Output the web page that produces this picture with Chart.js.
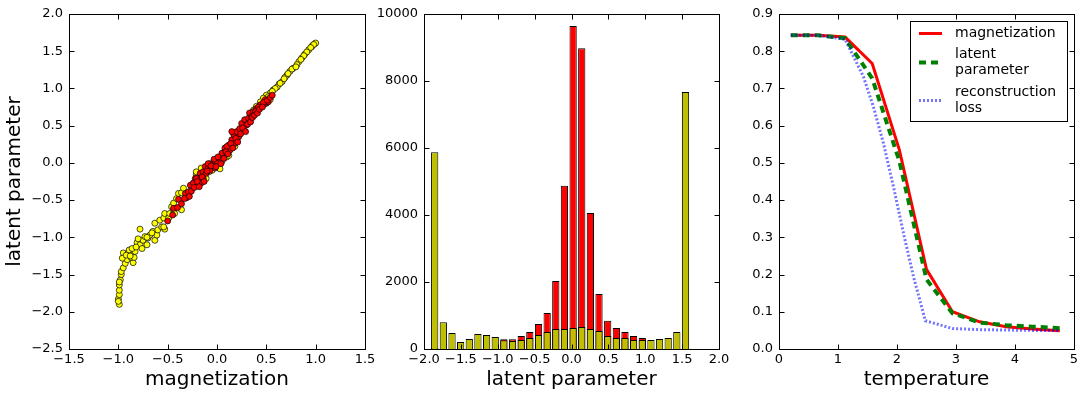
<!DOCTYPE html>
<html><head><meta charset="utf-8">
<script src="https://cdn.jsdelivr.net/npm/chart.js@4/dist/chart.umd.min.js"></script>
<style>
html,body{margin:0;padding:0;background:#fff;}
#wrap{position:relative;width:1085px;height:398px;overflow:hidden;background:#fff;}
canvas{position:absolute;left:0;top:0;}
</style></head><body>
<div id="wrap">
<canvas id="c1" width="1085" height="398"></canvas>
<canvas id="c2" width="1085" height="398"></canvas>
<canvas id="c3" width="1085" height="398"></canvas>
</div>
<script>
// ---------- Panel 1: scatter (magnetization vs latent parameter) ----------
const yellowMag = [-0.99,-1.00,-0.99,-0.99,-0.99,-0.98,-0.97,-0.97,-0.95,-0.93,-0.91,-0.95,-0.90,-0.89,-0.85,-0.87,-0.84,-0.83,-0.81,-0.78,-0.78,-0.76,-0.75,-0.73,-0.71,-0.70,-0.68,-0.65,-0.63,-0.61,-0.60,-0.56,-0.53,
  -0.96,-0.92,-0.88,-0.86,-0.82,-0.80,-1.00,-0.99,
  -0.71,-0.66,-0.63,-0.58,-0.54,-0.53,-0.54,-0.49,-0.48,-0.46,-0.44,-0.44,-0.43,-0.36,-0.41,-0.39,-0.36,-0.34,-0.26,-0.21,-0.11,-0.05,-0.14,
  -0.02,0.10,0.28,0.35,0.39,0.44,0.47,0.50,0.54,-0.16,-0.21,
  0.99,0.96,0.93,0.89,0.86,0.83,0.81,0.77,0.74,0.71,0.69,0.66,0.63,0.61,0.57,0.54,0.50,0.47,0.44,0.40,0.37,0.76,0.72,1.00,0.97,
  0.98,0.95,0.91,0.88,0.85,0.80,0.68,0.64,0.59,0.56,0.52,
  0.05,0.18,0.12,0.25,0.03,-0.08,-0.28,-0.30];
const yellowLat = [-1.90,-1.83,-1.77,-1.71,-1.64,-1.57,-1.50,-1.46,-1.41,-1.35,-1.30,-1.21,-1.21,-1.17,-1.34,-1.27,-1.27,-1.19,-1.07,-1.10,-0.89,-1.15,-1.04,-0.99,-1.10,-1.01,-0.97,-0.92,-1.04,-0.97,-0.90,-0.86,-0.89,
  -1.28,-1.24,-1.25,-1.15,-1.13,-1.02,-1.86,-1.60,
  -1.00,-0.94,-0.81,-0.77,-0.74,-0.68,-0.86,-0.74,-0.68,-0.59,-0.63,-0.54,-0.68,-0.63,-0.48,-0.41,-0.40,-0.34,-0.32,-0.16,-0.21,-0.10,-0.16,
  -0.01,0.08,0.51,0.64,0.67,0.76,0.78,0.80,0.85,-0.07,-0.12,
  1.60,1.56,1.52,1.46,1.41,1.36,1.32,1.27,1.23,1.18,1.15,1.09,1.06,1.02,0.98,0.94,0.91,0.87,0.82,0.76,0.71,1.26,1.20,1.61,1.58,
  1.59,1.55,1.49,1.44,1.39,1.29,1.13,1.07,1.00,0.96,0.89,
  0.02,0.22,0.10,0.45,-0.08,-0.12,-0.40,-0.45];
const redMag = [-0.50,-0.44,-0.39,-0.31,-0.32,-0.29,-0.27,-0.24,-0.22,-0.19,-0.17,-0.14,-0.12,-0.09,-0.07,-0.04,-0.02,-0.19,-0.14,-0.11,-0.07,
  0.00,0.03,0.06,0.08,0.12,0.15,0.17,0.20,0.23,0.25,0.28,0.32,0.33,0.37,0.40,0.44,0.49,0.52,
  -0.09,-0.02,0.05,0.13,0.18,0.10,0.22,0.27,0.30,0.15,-0.16,-0.21,0.49,0.47,0.42,0.39,0.35,
  -0.45,-0.40,-0.36,-0.33,-0.28,-0.26,-0.23,-0.20,-0.18,-0.15,-0.13,-0.10,-0.06,-0.03,-0.01,0.01,0.04,0.07,0.09,0.11,0.14,0.16,0.19,0.21,0.24,0.26,0.29,0.31,0.34,0.36,0.38,0.41,0.43,0.46,0.51,0.54,0.56];
const redLat = [-0.78,-0.61,-0.49,-0.47,-0.41,-0.39,-0.30,-0.27,-0.21,-0.21,-0.14,-0.12,-0.05,-0.07,-0.01,-0.03,0.02,-0.30,-0.21,-0.14,-0.10,
  0.02,0.06,0.13,0.20,0.24,0.31,0.38,0.42,0.46,0.53,0.58,0.60,0.67,0.69,0.73,0.78,0.80,0.82,
  -0.01,-0.07,0.13,0.17,0.26,0.22,0.35,0.44,0.51,0.42,-0.27,-0.21,0.85,0.81,0.75,0.69,0.62,
  -0.70,-0.60,-0.55,-0.48,-0.45,-0.38,-0.33,-0.25,-0.32,-0.19,-0.25,-0.11,-0.04,0.05,-0.05,0.08,-0.01,0.06,0.15,0.12,0.26,0.20,0.33,0.28,0.39,0.47,0.42,0.52,0.55,0.61,0.64,0.67,0.72,0.75,0.84,0.88,0.91];
const scatterXTicks = [-1.5,-1.0,-0.5,0.0,0.5,1.0,1.5];
const scatterXLabels = ['\u22121.5','\u22121.0','\u22120.5','0.0','0.5','1.0','1.5'];
const scatterYTicks = [-2.5,-2.0,-1.5,-1.0,-0.5,0.0,0.5,1.0,1.5,2.0];
const scatterYLabels = ['\u22122.5','\u22122.0','\u22121.5','\u22121.0','\u22120.5','0.0','0.5','1.0','1.5','2.0'];

// ---------- Panel 2: histogram of latent parameter ----------
const binCenters = [-1.855,-1.738,-1.620,-1.503,-1.386,-1.269,-1.151,-1.034,-0.917,-0.799,-0.682,-0.565,-0.447,-0.330,-0.213,-0.096,0.022,0.139,0.256,0.373,0.491,0.608,0.725,0.842,0.960,1.077,1.194,1.311,1.428,1.546];
const redCounts = [30,0,0,0,0,0,0,0,290,290,390,510,750,1075,2030,4870,9640,8980,4060,1640,840,630,510,390,330,0,0,0,0,0];
const yellowCounts = [5870,800,480,210,300,450,420,360,260,240,270,330,420,510,600,600,630,660,600,540,390,330,330,270,270,270,300,330,510,7670];
const histXTicks = [-2.0,-1.5,-1.0,-0.5,0.0,0.5,1.0,1.5,2.0];
const histXLabels = ['\u22122.0','\u22121.5','\u22121.0','\u22120.5','0.0','0.5','1.0','1.5','2.0'];
const histYTicks = [0,2000,4000,6000,8000,10000];
const histYLabels = ['0','2000','4000','6000','8000','10000'];

// ---------- Panel 3: order parameters vs temperature ----------
const temperatures = [0.20,0.66,1.12,1.58,2.04,2.50,2.94,3.40,3.85,4.30,4.76];
const magnetization = [0.843,0.843,0.838,0.767,0.535,0.214,0.100,0.073,0.060,0.054,0.049];
const latentParam = [0.843,0.843,0.835,0.727,0.505,0.187,0.096,0.071,0.064,0.060,0.056];
const lossTemperatures = [0.20,0.66,1.12,1.43,1.60,1.77,1.94,2.11,2.28,2.48,2.94,3.40,3.85,4.30,4.76];
const reconLoss = [0.843,0.843,0.832,0.732,0.651,0.553,0.436,0.311,0.194,0.076,0.055,0.052,0.051,0.050,0.050];
const lineXTicks = [0,1,2,3,4,5];
const lineXLabels = ['0','1','2','3','4','5'];
const lineYTicks = [0.0,0.1,0.2,0.3,0.4,0.5,0.6,0.7,0.8,0.9];
const lineYLabels = ['0.0','0.1','0.2','0.3','0.4','0.5','0.6','0.7','0.8','0.9'];
const legendLines = [['magnetization'],['latent','parameter'],['reconstruction','loss']];

// ---------- shared styling ----------
const FONT = "'DejaVu Sans', 'Bitstream Vera Sans', sans-serif";
const TICK_FONT = {family: FONT, size: 13};
const TITLE_FONT = {family: FONT, size: 20};

const frameTicks = {
  id: 'frameTicks',
  afterDatasetsDraw(chart) {
    const {ctx, chartArea: a} = chart;
    const xs = chart.scales.x, ys = chart.scales.y;
    const L = Math.round(a.left) + 0.5, R = Math.round(a.right) + 0.5;
    const T = Math.round(a.top) + 0.5, B = Math.round(a.bottom) + 0.5;
    ctx.save();
    ctx.strokeStyle = '#000';
    ctx.lineWidth = 1;
    ctx.beginPath();
    xs.ticks.forEach(t => {
      const p = Math.round(xs.getPixelForValue(t.value)) + 0.5;
      ctx.moveTo(p, B); ctx.lineTo(p, B - 5);
      ctx.moveTo(p, T); ctx.lineTo(p, T + 5);
    });
    ys.ticks.forEach(t => {
      const p = Math.round(ys.getPixelForValue(t.value)) + 0.5;
      ctx.moveTo(L, p); ctx.lineTo(L + 5, p);
      ctx.moveTo(R, p); ctx.lineTo(R - 5, p);
    });
    ctx.stroke();
    ctx.strokeRect(L, T, R - L, B - T);
    ctx.restore();
  }
};

function axis(min, max, ticks, labels, opts, pad) {
  return Object.assign({
    type: 'linear', min: min, max: max, offset: false,
    grid: {display: false, drawTicks: false},
    border: {display: false},
    afterBuildTicks: s => { s.ticks = ticks.map(v => ({value: v})); },
    ticks: {
      autoSkip: false, maxRotation: 0, color: '#000', font: TICK_FONT, padding: pad,
      callback: (v) => { const i = ticks.findIndex(t => Math.abs(t - v) < 1e-9); return i >= 0 ? labels[i] : ''; }
    }
  }, opts || {});
}
function xTitle(text) { return {display: !!text, text: text, color: '#000', font: TITLE_FONT, padding: {top: 0, bottom: 6}}; }

const baseOpts = (padL, padR) => ({
  responsive: false, animation: false, devicePixelRatio: 1, events: [],
  layout: {padding: {left: padL, right: padR, top: 14, bottom: 0}},
  plugins: {legend: {display: false}, tooltip: {enabled: false}, title: {display: false}}
});

// ---------- Chart 1 ----------
new Chart(document.getElementById('c1'), {
  type: 'scatter',
  data: {datasets: [
    {label: 'red', data: redMag.map((m, i) => ({x: m, y: redLat[i]})), order: 1,
     backgroundColor: '#ff0000', borderColor: '#000', borderWidth: 0.7, pointRadius: 3},
    {label: 'yellow', data: yellowMag.map((m, i) => ({x: m, y: yellowLat[i]})), order: 2,
     backgroundColor: '#ffff00', borderColor: '#000', borderWidth: 0.7, pointRadius: 3}
  ]},
  options: Object.assign(baseOpts(0, 720), {
    scales: {
      x: axis(-1.5, 1.5, scatterXTicks, scatterXLabels, {title: xTitle('magnetization'), afterFit: s => { s.height = 49; }}, 3),
      y: axis(-2.5, 2.0, scatterYTicks, scatterYLabels, {
        title: {display: true, text: 'latent parameter', color: '#000', font: TITLE_FONT, padding: {top: 3, bottom: 0}},
        afterFit: s => { s.width = 69; }}, 6)
    }
  }),
  plugins: [frameTicks]
});

// ---------- Chart 2 ----------
new Chart(document.getElementById('c2'), {
  type: 'bar',
  data: {datasets: [
    {label: 'yellow', data: binCenters.map((c, i) => ({x: c, y: yellowCounts[i]})), order: 1,
     backgroundColor: '#bfbf00', borderColor: '#000', borderWidth: 1, grouped: false,
     barPercentage: 1.0, categoryPercentage: 0.84},
    {label: 'red', data: binCenters.map((c, i) => ({x: c, y: redCounts[i]})), order: 2,
     backgroundColor: '#ff0000', borderColor: '#000', borderWidth: 1, grouped: false,
     barPercentage: 1.0, categoryPercentage: 0.84}
  ]},
  options: Object.assign(baseOpts(375, 366), {
    scales: {
      x: axis(-2.0, 2.0, histXTicks, histXLabels, {title: xTitle('latent parameter'), afterFit: s => { s.height = 49; }}, 3),
      y: axis(0, 10000, histYTicks, histYLabels, {afterFit: s => { s.width = 49; }}, 6)
    }
  }),
  plugins: [frameTicks]
});

// ---------- Chart 3 ----------
const legendBox = {
  id: 'legendBox',
  afterDraw(chart) {
    const {ctx, chartArea: a} = chart;
    const ds = chart.data.datasets;
    const bx = Math.round(a.right) - 163.5, by = Math.round(a.top) + 7.5, bw = 157, bh = 100;
    ctx.save();
    ctx.fillStyle = '#fff';
    ctx.fillRect(bx, by, bw, bh);
    ctx.strokeStyle = '#000'; ctx.lineWidth = 1;
    ctx.strokeRect(bx, by, bw, bh);
    const lineGap = 16;
    const firstY = [by + 12, by + 33, by + 71];
    ctx.font = "14px " + FONT;
    ctx.textBaseline = 'middle';
    ctx.textAlign = 'left';
    legendLines.forEach((lines, k) => {
      const d = ds[k];
      const midY = firstY[k] + (lines.length - 1) * lineGap / 2;
      ctx.strokeStyle = d.borderColor; ctx.lineWidth = d.borderWidth;
      ctx.setLineDash(d.borderDash || []);
      ctx.beginPath(); ctx.moveTo(bx + 8.5, midY); ctx.lineTo(bx + 31.5, midY); ctx.stroke();
      ctx.setLineDash([]);
      ctx.fillStyle = '#000';
      lines.forEach((t, j) => ctx.fillText(t, bx + 44.5, firstY[k] + j * lineGap));
    });
    ctx.restore();
  }
};

new Chart(document.getElementById('c3'), {
  type: 'line',
  data: {datasets: [
    {label: 'magnetization', data: temperatures.map((t, i) => ({x: t, y: magnetization[i]})), order: 3,
     borderColor: '#ff0000', borderWidth: 3, pointRadius: 0, fill: false, tension: 0},
    {label: 'latent parameter', data: temperatures.map((t, i) => ({x: t, y: latentParam[i]})), order: 2,
     borderColor: '#008000', borderWidth: 4, borderDash: [7, 5], pointRadius: 0, fill: false, tension: 0},
    {label: 'reconstruction loss', data: lossTemperatures.map((t, i) => ({x: t, y: reconLoss[i]})), order: 1,
     borderColor: 'rgba(0,0,255,0.55)', borderWidth: 3, borderDash: [2, 2], pointRadius: 0, fill: false, tension: 0}
  ]},
  options: Object.assign(baseOpts(730, 11), {
    scales: {
      x: axis(0, 5, lineXTicks, lineXLabels, {title: xTitle('temperature'), afterFit: s => { s.height = 49; }}, 3),
      y: axis(0, 0.9, lineYTicks, lineYLabels, {afterFit: s => { s.width = 49; }}, 6)
    }
  }),
  plugins: [frameTicks, legendBox]
});
</script>
</body></html>
